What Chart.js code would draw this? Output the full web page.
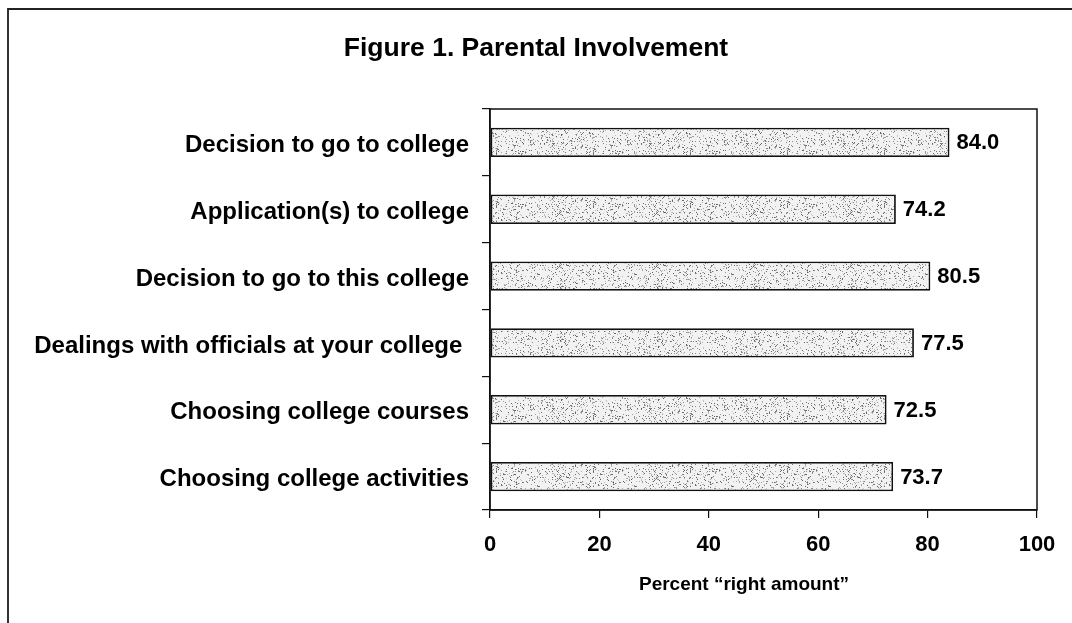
<!DOCTYPE html>
<html>
<head>
<meta charset="utf-8">
<script src="https://cdn.jsdelivr.net/npm/chart.js@4.4.1/dist/chart.umd.min.js"></script>
<style>
  html, body { margin: 0; padding: 0; background: #fff; }
  #wrap { position: relative; width: 1072px; height: 623px; }
  #frame { position: absolute; left: 7px; top: 8px; right: 0; bottom: 0;
           border-top: 2px solid #222; border-left: 2px solid #333; pointer-events: none; }
</style>
</head>
<body>
<div id="wrap">
  <canvas id="chart-parents" width="1072" height="623"></canvas>
  <div id="frame"></div>
</div>
<script>
// chart data
const categories = [
  'Decision to go to college',
  'Application(s) to college',
  'Decision to go to this college',
  'Dealings with officials at your college ',
  'Choosing college courses',
  'Choosing college activities'
];
const rightAmount = [84.0, 74.2, 80.5, 77.5, 72.5, 73.7];
const xTicks = [0, 20, 40, 60, 80, 100];

const FONT = '"Liberation Sans", Arial, Helvetica, sans-serif';

// speckled grey fill like the scanned original
function stipple() {
  const c = document.createElement('canvas');
  c.width = 97; c.height = 53;
  const g = c.getContext('2d');
  g.fillStyle = '#f2f2f2';
  g.fillRect(0, 0, c.width, c.height);
  let s = 12345;
  const next = () => { s = (s * 1103515245 + 12345) & 0x7fffffff; return s / 0x7fffffff; };
  for (let i = 0; i < 800; i++) {
    const x = Math.floor(next() * c.width), y = Math.floor(next() * c.height);
    const v = Math.floor(90 + next() * 110);
    g.fillStyle = `rgb(${v},${v},${v})`;
    g.fillRect(x, y, 1, 1);
  }
  return g.createPattern(c, 'repeat');
}

const decor = {
  id: 'decor',
  afterDatasetsDraw(chart) {
    const { ctx, chartArea: a } = chart;
    ctx.save();
    // box round the plot
    ctx.strokeStyle = '#111';
    ctx.lineWidth = 1.5;
    ctx.strokeRect(a.left, a.top, a.right - a.left, a.bottom - a.top);
    // value labels
    ctx.fillStyle = '#000';
    ctx.font = 'bold 22px ' + FONT;
    ctx.textBaseline = 'middle';
    ctx.textAlign = 'left';
    chart.getDatasetMeta(0).data.forEach((bar, i) => {
      ctx.fillText(rightAmount[i].toFixed(1), bar.x + 7, bar.y + 1);
    });
    ctx.restore();
  },
  afterDraw(chart) {
    const { ctx } = chart;
    ctx.save();
    ctx.fillStyle = '#000';
    ctx.textAlign = 'center';
    ctx.textBaseline = 'middle';
    ctx.font = 'bold 26.5px ' + FONT;
    ctx.fillText('Figure 1. Parental Involvement', 536, 49);
    ctx.font = 'bold 19px ' + FONT;
    ctx.fillText('Percent \u201cright amount\u201d', 744, 585);
    ctx.restore();
  }
};

const ctx = document.getElementById('chart-parents').getContext('2d');
new Chart(ctx, {
  type: 'bar',
  data: {
    labels: categories,
    datasets: [{
      data: rightAmount,
      backgroundColor: stipple(),
      borderColor: '#111',
      borderWidth: 1.8,
      borderSkipped: false,
      barPercentage: 0.44,
      categoryPercentage: 1
    }]
  },
  options: {
    indexAxis: 'y',
    responsive: false,
    animation: false,
    layout: { padding: { top: 109, right: 35, left: 0, bottom: 0 } },
    plugins: { legend: { display: false }, tooltip: { enabled: false }, title: { display: false } },
    scales: {
      x: {
        min: 0, max: 100,
        afterBuildTicks: (s) => { s.ticks = xTicks.map((v) => ({ value: v })); },
        afterFit: (s) => { s.height = 113; },
        grid: { drawOnChartArea: false, drawTicks: true, tickLength: 8, color: '#111', lineWidth: 1.2 },
        border: { display: true, color: '#111', width: 1.5 },
        ticks: { color: '#000', padding: 14, font: { family: FONT, size: 22, weight: 'bold' } }
      },
      y: {
        afterFit: (s) => { s.width = 490; },
        grid: { offset: true, drawOnChartArea: false, drawTicks: true, tickLength: 8, color: '#111', lineWidth: 1.2 },
        border: { display: true, color: '#111', width: 1.5 },
        ticks: { color: '#000', padding: 13, labelOffset: 3, font: { family: FONT, size: 24, weight: 'bold' } }
      }
    }
  },
  plugins: [decor]
});
</script>
</body>
</html>
